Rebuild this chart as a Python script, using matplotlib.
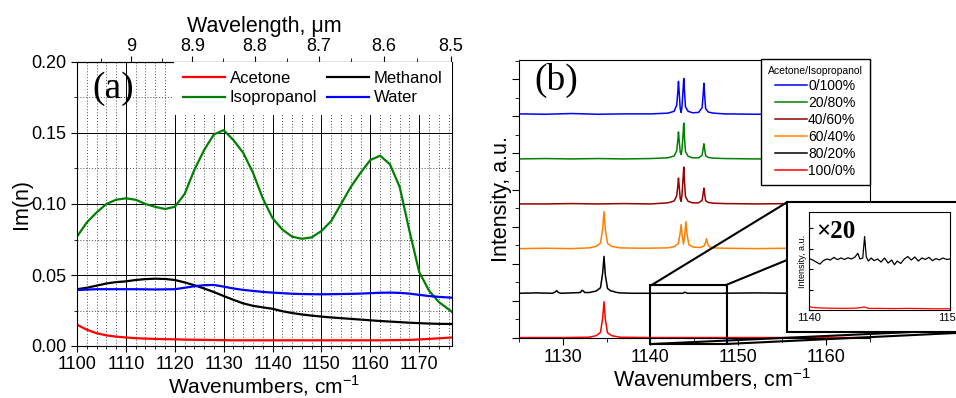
import numpy as np
import matplotlib
matplotlib.use('Agg')
import matplotlib.pyplot as plt
from matplotlib.lines import Line2D
from matplotlib.patches import Rectangle
from matplotlib.ticker import MultipleLocator, FixedLocator

plt.rcParams['font.family'] = ['Liberation Sans', 'DejaVu Sans']
plt.rcParams['mathtext.fontset'] = 'custom'
plt.rcParams['mathtext.rm'] = 'Liberation Sans'

# ---- panel (a): Im(n) spectra ----
wn = [1100, 1102, 1104, 1106, 1108, 1110, 1112, 1114, 1116, 1118, 1120, 1122, 1124, 1126,
      1128, 1130, 1132, 1134, 1136, 1138, 1140, 1142, 1144, 1146, 1148, 1150, 1152, 1154,
      1156, 1158, 1160, 1162, 1164, 1166, 1168, 1170, 1172, 1174, 1176.7]
acetone = [0.015, 0.0115, 0.009, 0.0075, 0.0066, 0.006, 0.0055, 0.0052, 0.005, 0.0048, 0.0047,
           0.0045, 0.0044, 0.0043, 0.0042, 0.0041, 0.004, 0.004, 0.004, 0.004, 0.004, 0.004,
           0.004, 0.004, 0.004, 0.004, 0.004, 0.004, 0.004, 0.004, 0.004, 0.004, 0.0041, 0.0042,
           0.0043, 0.0046, 0.005, 0.0054, 0.006]
isopropanol = [0.077, 0.087, 0.094, 0.100, 0.103, 0.104, 0.103, 0.100, 0.098, 0.0965, 0.098,
               0.107, 0.124, 0.138, 0.149, 0.152, 0.145, 0.136, 0.122, 0.104, 0.090, 0.082,
               0.077, 0.0755, 0.0765, 0.081, 0.088, 0.100, 0.112, 0.122, 0.131, 0.134, 0.128,
               0.112, 0.081, 0.052, 0.039, 0.031, 0.024]
methanol = [0.040, 0.041, 0.0425, 0.044, 0.045, 0.0455, 0.0465, 0.0471, 0.0474, 0.0472, 0.0465,
            0.0448, 0.0428, 0.0405, 0.038, 0.0352, 0.0325, 0.030, 0.0283, 0.0272, 0.0262, 0.0245,
            0.0232, 0.0222, 0.0214, 0.0207, 0.0201, 0.0196, 0.0191, 0.0186, 0.0181, 0.0176,
            0.0172, 0.0168, 0.0164, 0.0161, 0.0158, 0.0156, 0.0155]
water = [0.0394, 0.0397, 0.040, 0.040, 0.040, 0.040, 0.040, 0.0399, 0.0398, 0.0399, 0.040,
         0.041, 0.0421, 0.0428, 0.043, 0.0418, 0.0405, 0.0395, 0.0388, 0.0381, 0.0376, 0.0372,
         0.0368, 0.0366, 0.0365, 0.0364, 0.0365, 0.0366, 0.0367, 0.0369, 0.0372, 0.0375,
         0.0376, 0.0374, 0.0369, 0.036, 0.0352, 0.0346, 0.034]

wl_ticks = [9.0, 8.9, 8.8, 8.7, 8.6, 8.5]
wl_labels = ['9', '8.9', '8.8', '8.7', '8.6', '8.5']
wl_minor = [9.05, 8.95, 8.85, 8.75, 8.65, 8.55]

# ---- panel (b): spectra of the mixtures ----
mix_labels = ['0/100%', '20/80%', '40/60%', '60/40%', '80/20%', '100/0%']
mix_colors = ['#0000ff', '#008000', '#960000', '#ff8000', '#000000', '#ff0000']
offsets = [6.05, 4.84, 3.62, 2.41, 1.2, 0.0]

x_ipa = [1125, 1128, 1131, 1134, 1137, 1140, 1142.0, 1142.7, 1143.0, 1143.12, 1143.2, 1143.28,
         1143.4, 1143.5, 1143.6, 1143.72, 1143.8, 1143.88, 1144.0, 1144.3, 1144.8, 1145.5,
         1145.9, 1146.02, 1146.1, 1146.18, 1146.3, 1146.6, 1147.2, 1148.5, 1152, 1156, 1160, 1165]
y_0_100 = [0.01, 0.0, 0.02, 0.0, 0.01, 0.01, 0.03, 0.08, 0.25, 0.6, 0.89, 0.6, 0.15, 0.05, 0.2,
           0.65, 0.97, 0.65, 0.2, 0.08, 0.04, 0.05, 0.18, 0.55, 0.84, 0.55, 0.15, 0.06, 0.03,
           0.01, 0.0, 0.01, 0.0, 0.0]
y_20_80 = [0.0, 0.01, 0.0, 0.01, 0.0, 0.01, 0.03, 0.08, 0.22, 0.5, 0.73, 0.5, 0.18, 0.12, 0.25,
           0.65, 0.97, 0.6, 0.2, 0.07, 0.03, 0.03, 0.1, 0.28, 0.41, 0.27, 0.09, 0.04, 0.02,
           0.01, 0.0, 0.0, 0.01, 0.0]
y_40_60 = [0.0, 0.0, 0.01, 0.0, 0.01, 0.0, 0.03, 0.08, 0.22, 0.48, 0.70, 0.48, 0.14, 0.07, 0.25,
           0.68, 1.0, 0.62, 0.2, 0.07, 0.03, 0.03, 0.1, 0.29, 0.43, 0.28, 0.09, 0.04, 0.02,
           0.01, 0.0, 0.01, 0.0, 0.0]
x_60_40 = [1125, 1128, 1131, 1133.0, 1133.8, 1134.3, 1134.55, 1134.7, 1134.85, 1135.1, 1135.6,
           1136.5, 1139, 1142.0, 1142.8, 1143.2, 1143.38, 1143.5, 1143.62, 1143.78, 1143.92,
           1144.05, 1144.18, 1144.4, 1144.9, 1145.7, 1146.1, 1146.3, 1146.4, 1146.5, 1146.7,
           1147.2, 1148.5, 1152, 1156, 1160, 1165]
y_60_40 = [0.0, 0.01, 0.0, 0.02, 0.06, 0.15, 0.55, 1.0, 0.52, 0.14, 0.06, 0.02, 0.01, 0.02,
           0.06, 0.15, 0.4, 0.65, 0.35, 0.12, 0.4, 0.73, 0.38, 0.1, 0.04, 0.03, 0.07, 0.17,
           0.27, 0.15, 0.05, 0.02, 0.01, 0.0, 0.01, 0.0, 0.0]
x_80_20 = [1125, 1127, 1128.8, 1129.1, 1129.3, 1129.5, 1129.8, 1131, 1132.0, 1132.2, 1132.35,
           1132.5, 1133.0, 1133.8, 1134.3, 1134.55, 1134.7, 1134.85, 1135.1, 1135.5, 1135.8,
           1136.0, 1136.5, 1138, 1140, 1143.7, 1143.95, 1144.2, 1148, 1152, 1156, 1160, 1165]
y_80_20 = [0.0, 0.01, 0.0, 0.03, 0.07, 0.02, 0.0, 0.01, 0.02, 0.08, 0.06, 0.02, 0.02, 0.06,
           0.15, 0.55, 1.0, 0.5, 0.13, 0.06, 0.05, 0.03, 0.01, 0.0, 0.0, 0.0, 0.03, 0.0, 0.0,
           0.01, 0.0, 0.0, 0.0]
x_100_0 = [1125, 1130, 1133, 1133.8, 1134.3, 1134.55, 1134.7, 1134.85, 1135.1, 1135.6, 1136.5,
           1140, 1145, 1150, 1155, 1160, 1165]
y_100_0 = [0.0, 0.0, 0.01, 0.05, 0.14, 0.53, 0.97, 0.5, 0.13, 0.05, 0.01, 0.0, 0.0, 0.0, 0.0,
           0.0, 0.0]

traces_x = [x_ipa, x_ipa, x_ipa, x_60_40, x_80_20, x_100_0]
traces_y = [y_0_100, y_20_80, y_40_60, y_60_40, y_80_20, y_100_0]

# inset (x20)
ins_x = [1140.0, 1140.25, 1140.5, 1140.75, 1141.0, 1141.25, 1141.5, 1141.75, 1142.0, 1142.25,
         1142.5, 1142.75, 1143.0, 1143.25, 1143.45, 1143.6, 1143.8, 1143.93, 1144.05, 1144.2,
         1144.4, 1144.6, 1144.85, 1145.1, 1145.35, 1145.6, 1145.85, 1146.05, 1146.25, 1146.5,
         1146.75, 1147.0, 1147.25, 1147.5, 1147.75, 1148.0, 1148.25, 1148.5, 1148.75, 1149.0,
         1149.25, 1149.5, 1149.75, 1150.0]
ins_black = [2.52, 2.45, 2.35, 2.25, 2.42, 2.5, 2.45, 2.58, 2.47, 2.55, 2.48, 2.56, 2.5, 2.6,
             2.78, 2.5, 2.55, 3.6, 2.6, 2.4, 2.55, 2.42, 2.5, 2.35, 2.55, 2.3, 2.45, 2.22, 2.4,
             2.28, 2.5, 2.62, 2.45, 2.6, 2.4, 2.55, 2.48, 2.58, 2.42, 2.52, 2.46, 2.55, 2.48, 2.5]
ins_red_x = [1140, 1140.3, 1140.8, 1141.5, 1142.5, 1143.2, 1143.5, 1143.9, 1144.2, 1145, 1146,
             1147, 1148, 1149, 1150]
ins_red = [0.16, 0.12, 0.1, 0.09, 0.08, 0.09, 0.1, 0.15, 0.08, 0.08, 0.07, 0.08, 0.07, 0.06, 0.06]

W, H = 956.0, 398.0
def fx(px):
	return px / W
def fy(py):
	return 1 - py / H

fig = plt.figure(figsize=(9.56, 3.98), dpi=100)

# ---------------- (a) ----------------
ax1 = fig.add_axes([fx(77), fy(346), (452 - 77) / W, (346 - 62) / H])
ax1.plot(wn, acetone, color='#ff0000', lw=1.6, label='Acetone')
ax1.plot(wn, isopropanol, color='#008000', lw=1.6, label='Isopropanol')
ax1.plot(wn, methanol, color='#000000', lw=1.6, label='Methanol')
ax1.plot(wn, water, color='#0000ff', lw=1.6, label='Water')
ax1.set_xlim(1100, 1176.7)
ax1.set_ylim(0, 0.2)
ax1.xaxis.set_major_locator(MultipleLocator(10))
ax1.xaxis.set_minor_locator(MultipleLocator(2))
ax1.yaxis.set_major_locator(MultipleLocator(0.05))
ax1.yaxis.set_minor_locator(MultipleLocator(0.025))
ax1.yaxis.set_major_formatter(matplotlib.ticker.FormatStrFormatter('%.2f'))
ax1.grid(which='major', color='k', lw=0.7)
ax1.grid(which='minor', color='0.3', lw=0.7, ls=(0, (1, 2)))
ax1.set_axisbelow(True)
ax1.tick_params(which='both', direction='out', labelsize=13, top=False, right=False)
ax1.tick_params(axis='x', pad=3)
ax1.tick_params(which='major', length=4)
ax1.tick_params(which='minor', length=2)
ax1.set_xlabel('Wavenumbers, cm$^{\\mathregular{-1}}$', fontsize=15)
ax1.xaxis.set_label_coords(0.5, -0.095)
ax1.set_ylabel('Im(n)', fontsize=15.5)
ax1.yaxis.set_label_coords(-0.12, 0.5)
ax1.text(0.04, 0.905, '(a)', transform=ax1.transAxes, family='Liberation Serif',
         fontsize=27, va='center', ha='left')
ax1.legend(loc='upper right', bbox_to_anchor=(1.0, 1.0), borderaxespad=0, ncol=2,
           fontsize=12, handlelength=2.5, handletextpad=0.3, columnspacing=0.6,
           labelspacing=0.25, borderpad=0.55, frameon=True, framealpha=1,
           edgecolor='none', fancybox=False)

def inv(x):
	x = np.array(x, dtype=float)
	with np.errstate(divide='ignore'):
		return 1e4 / x

top = ax1.secondary_xaxis('top', functions=(inv, inv))
top.xaxis.set_major_locator(FixedLocator(wl_ticks))
top.xaxis.set_minor_locator(FixedLocator(wl_minor))
top.set_xticklabels(wl_labels)
top.tick_params(which='both', direction='out', labelsize=13, pad=1)
top.tick_params(which='major', length=4)
top.tick_params(which='minor', length=3)
top.set_xlabel('Wavelength, \u03bcm', fontsize=15.5, labelpad=4)

# ---------------- (b) ----------------
ax2 = fig.add_axes([fx(519), fy(338.3), (869.5 - 519) / W, (338.3 - 60) / H])
handles = []
for xs, ys, off, c, lab in zip(traces_x, traces_y, offsets, mix_colors, mix_labels):
	l, = ax2.plot(xs, np.array(ys) + off, color=c, lw=1.1, label=lab)
	handles.append(l)
ax2.set_xlim(1125, 1165)
ax2.set_ylim(-0.02, 7.52)
ax2.xaxis.set_major_locator(MultipleLocator(10))
ax2.xaxis.set_minor_locator(MultipleLocator(5))
ax2.yaxis.set_major_locator(MultipleLocator(1))
ax2.yaxis.set_minor_locator(MultipleLocator(0.5))
ax2.tick_params(which='both', direction='out', labelsize=13, top=False, right=False,
                labelleft=False)
ax2.tick_params(axis='x', pad=3)
ax2.tick_params(which='major', length=5)
ax2.tick_params(which='minor', length=3)
ax2.set_xlabel('Wavenumbers, cm$^{\\mathregular{-1}}$', fontsize=15.5)
ax2.xaxis.set_label_coords(0.55, -0.1)
ax2.set_ylabel('Intensity, a.u.', fontsize=15.5, labelpad=0)
ax2.text(0.045, 0.928, '(b)', transform=ax2.transAxes, family='Liberation Serif',
         fontsize=27, va='center', ha='left')
leg = ax2.legend(handles=handles, loc='upper right', bbox_to_anchor=(1.0, 1.004),
                 borderaxespad=0, title='Acetone/Isopropanol', title_fontsize=7.5,
                 fontsize=10, handlelength=2.3, handletextpad=0.1, labelspacing=0.22,
                 borderpad=0.5, fancybox=False, framealpha=1, edgecolor='k')
leg.get_frame().set_linewidth(1.0)

# zoom box on the 80/20 trace
ax2.add_patch(Rectangle((1140, -0.17), 8.7, 1.59, fill=False, ec='k', lw=1.5,
                        clip_on=False, zorder=5))

# connector lines (figure coords)
conn = [((651.7, 285), (787, 202.3)), ((726, 285), (800, 254.7)),
        ((651.7, 344), (956, 330)), ((726, 344), (956, 333))]
for (x0, y0), (x1, y1) in conn:
	fig.add_artist(Line2D([fx(x0), fx(x1)], [fy(y0), fy(y1)], color='k', lw=1.5, zorder=5))

# inset frame and inset axes
fig.add_artist(Rectangle((fx(787), fy(331.7)), fx(1010) - fx(787), (331.7 - 202.3) / H,
                         fc='white', ec='k', lw=1.5, zorder=6))
ax3 = fig.add_axes([fx(809.3), fy(310), 140.7 / W, (310 - 212.3) / H], zorder=7)
ax3.plot(ins_x, ins_black, color='k', lw=0.9)
ax3.plot(ins_red_x, ins_red, color='#ff0000', lw=0.9)
ax3.set_xlim(1140, 1150)
ax3.set_ylim(0, 4.79)
ax3.set_xticks([1140, 1150])
ax3.set_yticks([0, 1, 2, 3, 4])
ax3.tick_params(direction='in', labelsize=8, labelleft=False, length=3, pad=2)
ax3.set_ylabel('Intensity, a.u.', fontsize=6.5, labelpad=2)
ax3.text(0.05, 0.8, '\u00d720', transform=ax3.transAxes, family='Liberation Serif',
         fontweight='bold', fontsize=18, va='center', ha='left')

plt.savefig('out.png', dpi=100)
